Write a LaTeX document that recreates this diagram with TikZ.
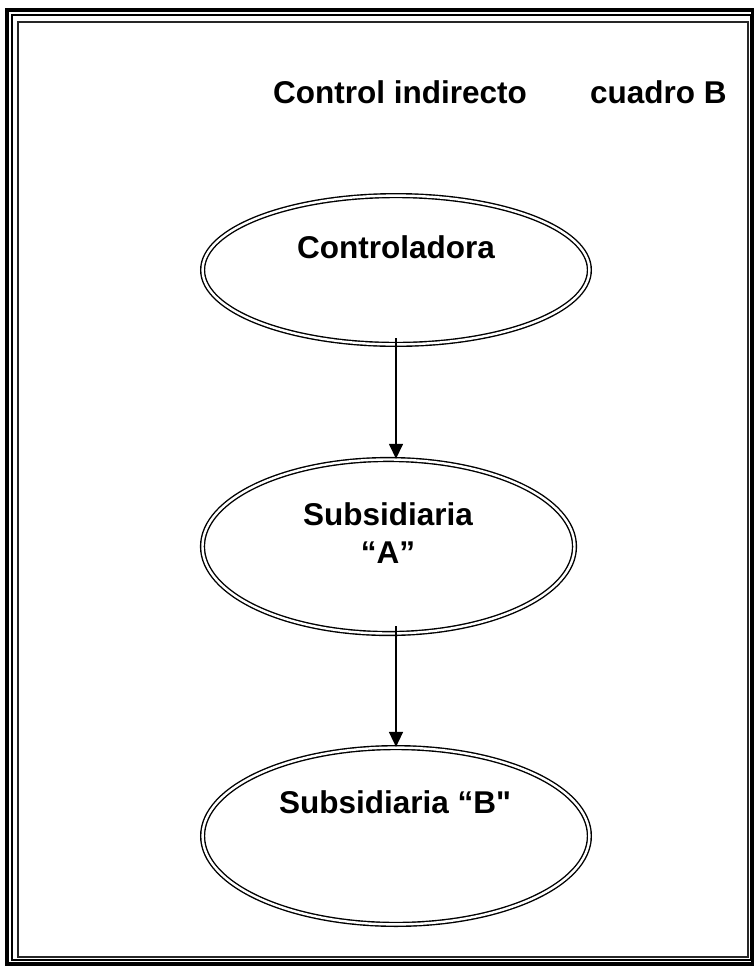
\documentclass[tikz,border=0pt]{standalone}
\usepackage{fontspec}
\setmainfont{Liberation Sans}[Ligatures=TeXOff]
\usetikzlibrary{arrows.meta,shapes.geometric,calc}
\begin{document}
\begin{tikzpicture}[x=1pt,y=-1pt,
  bubble/.style={ellipse,draw=black,double=white,line width=1.4pt,double distance=2.4pt,inner sep=0pt},
  lbl/.style={font=\fontsize{31.5}{38}\selectfont\bfseries,inner sep=0pt},
  link/.style={line width=1.5pt,-{Triangle[length=15pt,width=14pt]}}]
\useasboundingbox (0,0) rectangle (754,967);
\fill[white] (0,0) rectangle (754,967);
% frame
\draw[line width=4.5pt] (7,10) rectangle (753,964);
\draw[line width=2pt] (12,14.5) rectangle (751,960);
\draw[line width=1.6pt,black!85] (18,22) rectangle (748,957);
% title
\node[lbl,anchor=base west] (t1) at (273,103) {Control indirecto};
\node[lbl,anchor=base west] (t2) at (590,103) {cuadro B};
% ellipses
\node[bubble,minimum width=386.8pt,minimum height=148.8pt] (e1) at (396,270) {};
\node[bubble,minimum width=372pt,minimum height=174pt] (e2) at (388.5,546.5) {};
\node[bubble,minimum width=386.8pt,minimum height=176.8pt] (e3) at (396,836) {};
% labels
\node[lbl,anchor=base] (l1) at (396,258) {Controladora};
\node[lbl,anchor=north,align=center] (l2) at (388,502) {Subsidiaria\\“A”};
\node[lbl,anchor=base] (l3) at (395,813) {Subsidiaria “B"};
% connectors
\coordinate (s1) at ($(e1.south)+(0,-7)$);
\coordinate (s2) at ($(e2.south)+(7.5,-8)$);
\draw[link] (s1) -- (s1 |- e2.north);
\draw[link] (s2) -- (s2 |- e3.north);
\end{tikzpicture}
\end{document}
